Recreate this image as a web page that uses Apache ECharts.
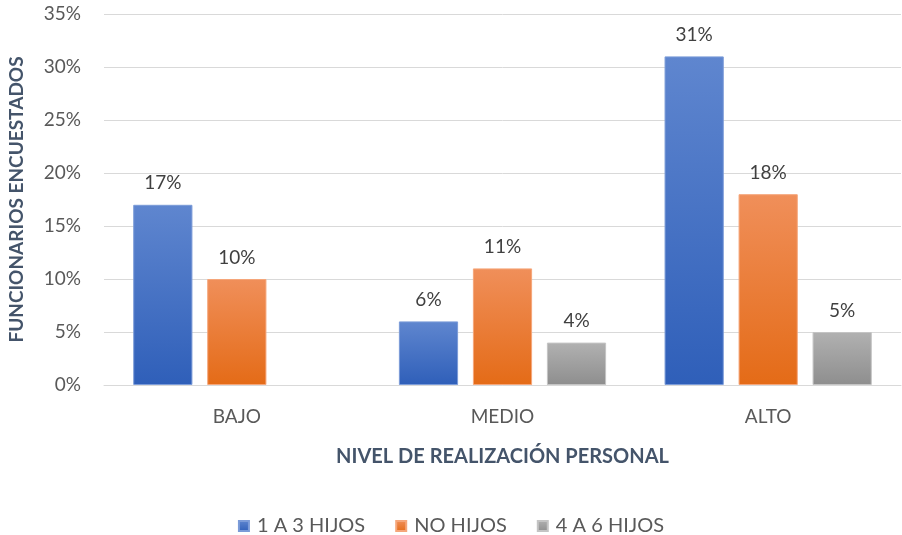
<!DOCTYPE html>
<html>
<head>
<meta charset="utf-8">
<script src="https://cdn.jsdelivr.net/npm/echarts@6/dist/echarts.min.js"></script>
<style>
  html, body { margin: 0; padding: 0; background: #fff; }
  #chart { width: 902px; height: 535px; }
</style>
</head>
<body>
<div id="chart"></div>
<script>
var chart = echarts.init(document.getElementById('chart'));

const categories = ['BAJO', 'MEDIO', 'ALTO'];
const seriesNames = ['1 A 3 HIJOS', 'NO HIJOS', '4 A 6 HIJOS'];
const unoATres = [17, 6, 31];
const noHijos = [10, 11, 18];
const cuatroASeis = [null, 4, 5];

function grad(top, bottom) {
  return new echarts.graphic.LinearGradient(0, 0, 0, 1, [
    { offset: 0, color: top },
    { offset: 1, color: bottom }
  ]);
}

const labelStyle = {
  show: true,
  position: 'top',
  distance: 12,
  formatter: '{c}%',
  color: '#404040',
  fontSize: 19,
  fontFamily: 'Lato'
};

function makeSeries(name, data, top, bottom, border) {
  return {
    name: name,
    type: 'bar',
    data: data,
    barGap: '25%',
    barCategoryGap: '22%',
    itemStyle: { color: grad(top, bottom), borderColor: border, borderWidth: 1 },
    label: labelStyle
  };
}

var option = {
  animation: false,
  textStyle: { fontFamily: 'Lato' },
  color: ['#4472c4', '#ed7d31', '#a5a5a5'],
  grid: { left: 104, right: 1, top: 14, bottom: 150, outerBoundsMode: 'none' },
  legend: {
    top: 511,
    left: 'center',
    icon: 'rect',
    itemWidth: 10,
    itemHeight: 10,
    itemGap: 30,
    textStyle: { color: '#595959', fontSize: 20, fontFamily: 'Lato', padding: [0, 0, 0, 3] },
    data: seriesNames
  },
  xAxis: {
    type: 'category',
    data: categories,
    name: 'NIVEL DE REALIZACIÓN PERSONAL',
    nameLocation: 'middle',
    nameGap: 62,
    nameTextStyle: { color: '#44546a', fontSize: 20, fontWeight: 'bold', fontFamily: 'Lato' },
    axisLine: { lineStyle: { color: '#d9d9d9' } },
    axisTick: { show: false },
    axisLabel: { color: '#595959', fontSize: 19, margin: 22 }
  },
  yAxis: {
    type: 'value',
    min: 0,
    max: 35,
    interval: 5,
    name: 'FUNCIONARIOS ENCUESTADOS',
    nameLocation: 'middle',
    nameGap: 78,
    nameTextStyle: { color: '#44546a', fontSize: 19, fontWeight: 'bold', fontFamily: 'Lato' },
    axisLine: { show: false },
    axisTick: { show: false },
    axisLabel: { formatter: '{value}%', color: '#595959', fontSize: 19, margin: 23 },
    splitLine: { lineStyle: { color: '#d9d9d9', width: 1 } }
  },
  series: [
    makeSeries(seriesNames[0], unoATres, '#5f86cf', '#2f5fb9', '#7b9bd8'),
    makeSeries(seriesNames[1], noHijos, '#f08f5a', '#e46b17', '#f5a67a'),
    makeSeries(seriesNames[2], cuatroASeis, '#b1b1b1', '#8e8e8e', '#c4c4c4')
  ]
};

option && chart.setOption(option);
</script>
</body>
</html>
